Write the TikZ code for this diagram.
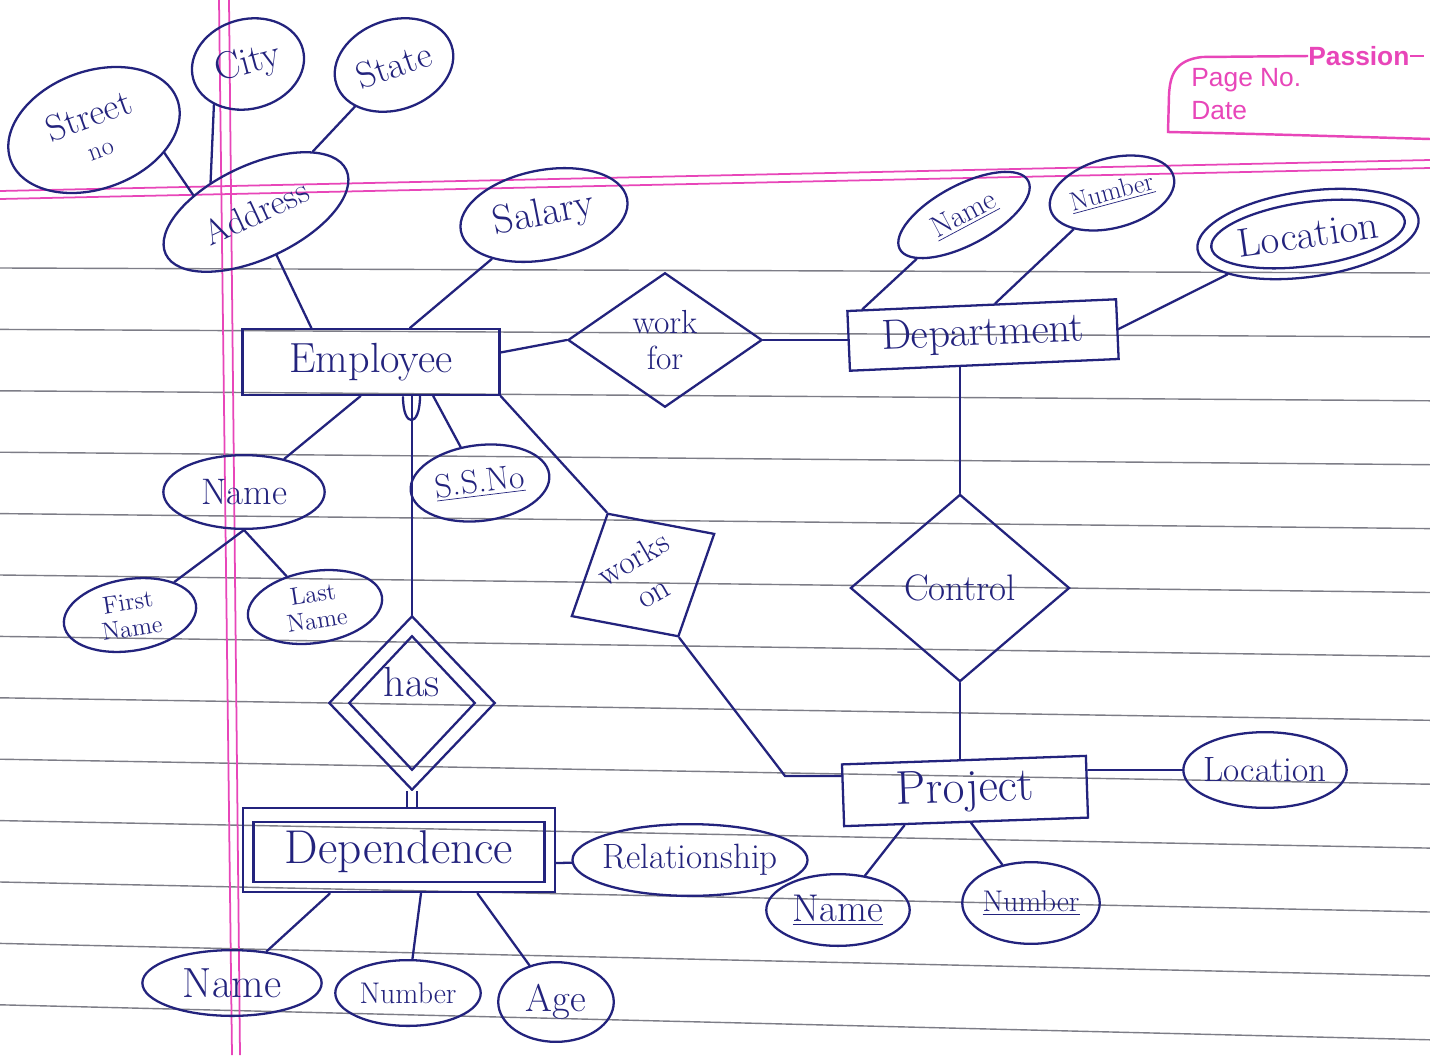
\documentclass[tikz,border=0pt]{standalone}
\usepackage{fontspec}
\newfontfamily\printfont{Liberation Sans}
\usetikzlibrary{shapes.geometric,calc}
\definecolor{inkc}{RGB}{35,35,125}
\definecolor{rulec}{RGB}{125,125,135}
\definecolor{marginc}{RGB}{232,70,185}
\begin{document}
\begin{tikzpicture}[x=0.02cm,y=-0.02cm,
  wh/.style 2 args={minimum width=#1*0.5669pt,minimum height=#2*0.5669pt},
  fs/.style={font=\fontsize{#1}{#1}\selectfont},
  % negative inner sep lets the given size win over the size of the text
  base/.style={draw=inkc,line width=1.3pt,inner sep=-40pt,text=inkc,align=center},
  attr/.style={base,ellipse},
  ent/.style={base,rectangle},
  relbox/.style={base,diamond},
  link/.style={draw=inkc,line width=1.3pt,line cap=round},
  rule/.style={draw=rulec,line width=0.8pt},
  margin/.style={draw=marginc,line width=1pt},
  printed/.style={text=marginc,inner sep=0pt,anchor=west}
]
% paper
\fill[white] (0,0) rectangle (1430,1055);
\useasboundingbox (0,0) rectangle (1430,1055);
\foreach \i in {0,...,12}
  \draw[rule] (0,{268+61.4*\i}) -- (1430,{273+63.9*\i});
\draw[margin] (219,0) -- (232,1055);
\draw[margin] (229,0) -- (240,1055);
\draw[margin] (0,191) -- (1430,160);
\draw[margin] (0,199) -- (1430,168);

% printed header box
\node[printed,font=\printfont\bfseries\fontsize{15}{15}\selectfont] (brand) at (1308,56) {Passion};
\node[printed,font=\printfont\fontsize{15}{15}\selectfont] (pageno) at (1191,80) {Page No.};
\node[printed,font=\printfont\fontsize{15}{15}\selectfont] (datefield) at (1191,111) {Date};
\draw[margin,line width=1.4pt] (brand.west) -- (1202,57) .. controls (1176,60) and (1170,74) .. (1169,95)
  -- (1168,132) .. controls (1260,134) .. (1430,139);
\draw[margin,line width=1.4pt] (brand.east) -- ++(14,0);

% ---------- Employee and its attributes ----------
\node[ent,wh={258}{66},fs=24] (emp) at (371,362) {Employee};

\node[attr,wh={178}{118},rotate=20,fs=21] (street) at (94,130) {Street\\[-3pt]{\fontsize{15}{15}\selectfont no}};
\node[attr,wh={114}{90},rotate=15,fs=22] (city) at (248,64) {City};
\node[attr,wh={122}{90},rotate=19,fs=21] (state) at (394,65) {State};
\node[attr,wh={200}{94},rotate=25,fs=20] (addr) at (256,212) {Address};
\node[attr,wh={170}{90},rotate=11,fs=23] (salary) at (544,215) {Salary};

\node[attr,wh={162}{74},fs=21] (ename) at (244,492) {Name};
\node[attr,wh={134}{72},rotate=9,fs=14] (fname) at (130,615) {First\\[1pt]Name};
\node[attr,wh={136}{72},rotate=9,fs=14] (lname) at (315,607) {Last\\[1pt]Name};
\node[attr,wh={140}{76},rotate=7,fs=19] (ssn) at (480,483) {\underline{S.S.No}};

% ---------- work for / Department ----------
\node[relbox,wh={195}{135},fs=19] (wf) at (665,340) {work\\[2pt]for};
\node[ent,wh={270}{60},rotate=2.5,fs=24] (dept) at (983,335) {Department};
\node[attr,wh={146}{60},rotate=28,fs=17] (dname) at (964,215) {\underline{Name}};
\node[attr,wh={128}{70},rotate=15,fs=15] (dnum) at (1112,193) {\underline{Number}};
\node[attr,wh={224}{86},rotate=8,fs=23] (dloc) at (1308,234) {Location};
\node[attr,wh={196}{64},rotate=8] (dloc-in) at (1308,234) {};

% ---------- Control / Project ----------
\node[relbox,wh={220}{188},fs=21] (ctrl) at (960,588) {Control};
\node[ent,wh={245}{62},rotate=2,fs=27] (proj) at (965,791) {Project};
\node[attr,wh={164}{76},fs=20] (ploc) at (1265,770) {Location};
\node[attr,wh={144}{72},fs=22] (pname) at (838,910) {\underline{Name}};
\node[attr,wh={138}{82},fs=17] (pnum) at (1031,903) {\underline{Number}};

% ---------- works on ----------
\node[relbox,wh={166}{143},rotate=30,fs=19] (wo) at (643,575) {works\\[3pt]on};

% ---------- has / Dependence ----------
\node[relbox,wh={167}{175}] (has) at (412,703) {};
\node[relbox,wh={127}{135},fs=24] (has-in) at (412,703) {\raisebox{24pt}{has}};
\node[ent,wh={313}{85}] (dep) at (399,850) {};
\node[ent,wh={292}{60},fs=27] (dep-in) at (399,852) {Dependence};
\node[attr,wh={236}{72},fs=20] (rel) at (690,860) {Relationship};
\node[attr,wh={180}{66},fs=24] (dname2) at (232,983) {Name};
\node[attr,wh={146}{66},fs=17] (dnum2) at (408,993) {Number};
\node[attr,wh={116}{80},fs=22] (age) at (556,1002) {Age};

% ---------- connectors ----------
\draw[link] (street.-38) -- (addr.140);
\draw[link] (city.215) -- (addr.122);
\draw[link] (state) -- (addr);
\draw[link] (addr) -- ($(emp.north west)!0.27!(emp.north east)$);
\draw[link] (salary) -- ($(emp.north west)!0.65!(emp.north east)$);
\draw[link] ($(emp.north east)!0.36!(emp.south east)$) -- (wf.west);
\draw[link] (wf.east) -- (wf.east -| dept.west);
\draw[link] (dname) -- ($(dept.north west)!0.06!(dept.north east)$);
\draw[link] (dnum) -- ($(dept.north west)!0.55!(dept.north east)$);
\draw[link] (dloc) -- (dept.east);
\draw[link] (ctrl.north) -- (ctrl.north |- dept.south);
\draw[link] (ctrl.south) -- (ctrl.south |- proj.north);
\draw[link] (proj.east |- ploc) -- (ploc);
\draw[link] (pname) -- ($(proj.south west)!0.25!(proj.south east)$);
\draw[link] (pnum) -- ($(proj.south west)!0.52!(proj.south east)$);
\draw[link] (emp.south east) -- (wo.north);
\coordinate (wobend) at (785,776);
\draw[link] (wo.south) -- (wobend) -- (wobend -| proj.west);
\draw[link] (ename) -- ($(emp.south west)!0.46!(emp.south east)$);
\draw[link] (ename.south) -- (fname);
\draw[link] (ename.south) -- (lname);
\draw[link] (ssn) -- ($(emp.south west)!0.74!(emp.south east)$);
\draw[link] (has.north) -- (has.north |- emp.south);
\draw[link] (403,397) .. controls (403,428) and (420,428) .. (420,396);
\draw[link,line cap=butt,double=white,double distance=4.5pt] (has.south) -- (has.south |- dep.north);
\draw[link] ($(dep.north east)!0.65!(dep.south east)$) -- (rel);
\draw[link] (dname2) -- ($(dep.south west)!0.28!(dep.south east)$);
\draw[link] (dnum2) -- ($(dep.south west)!0.57!(dep.south east)$);
\draw[link] (age) -- ($(dep.south west)!0.75!(dep.south east)$);
\end{tikzpicture}
\end{document}
